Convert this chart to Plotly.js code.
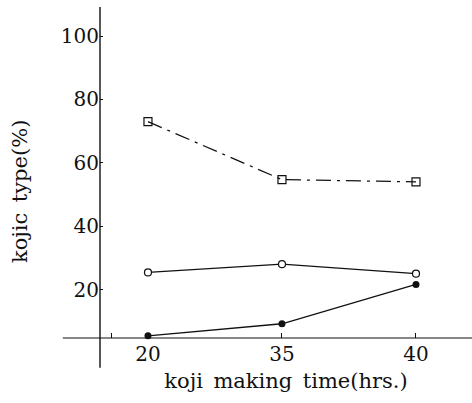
<!DOCTYPE html>
<html><head><meta charset="utf-8">
<script src="https://cdn.plot.ly/plotly-3.0.1.min.js"></script>
<style>html,body{margin:0;padding:0;background:#fff;}#chart{width:472px;height:403px;}</style>
</head><body><div id="chart"></div>
<script>
const hours = ["20", "35", "40"];
const xPos = [0, 1, 2];
const squareSeries = [73, 54.7, 54];
const circleSeries = [25.4, 28, 25];
const dotSeries = [5.4, 9.2, 21.6];
const yTicks = [20, 40, 60, 80, 100];

const tickFont = {family: "DejaVu Serif, serif", size: 20, color: "#111"};
const titleFont = {family: "DejaVu Serif, serif", size: 21, color: "#111"};

const traces = [
  {x: xPos, y: squareSeries, mode: "lines+markers", type: "scatter",
   line: {color: "#111", width: 1.3, dash: "longdashdot"},
   marker: {symbol: "square-open", size: 8, color: "#111", line: {width: 1.2}},
   cliponaxis: false},
  {x: xPos, y: circleSeries, mode: "lines+markers", type: "scatter",
   line: {color: "#111", width: 1.3},
   marker: {symbol: "circle", size: 7, color: "#fff", line: {color: "#111", width: 1.2}},
   cliponaxis: false},
  {x: xPos, y: dotSeries, mode: "lines+markers", type: "scatter",
   line: {color: "#111", width: 1.3},
   marker: {symbol: "circle", size: 7, color: "#111"},
   cliponaxis: false}
];

const layout = {
  width: 472, height: 403,
  margin: {l: 100, r: 0, t: 7, b: 65},
  paper_bgcolor: "#fff", plot_bgcolor: "#fff",
  showlegend: false,
  font: tickFont,
  xaxis: {
    range: [-0.358, 2.418],
    tickvals: [-0.27].concat(xPos), ticktext: [""].concat(hours),
    ticks: "inside", ticklen: 5, tickcolor: "#111", tickwidth: 1,
    showline: false, showgrid: false, zeroline: false,
    tickfont: tickFont, ticklabelstandoff: 2,
    title: {text: "koji\u2002making\u2002time(hrs.)", font: titleFont, standoff: 8}
  },
  yaxis: {
    range: [4.7, 109.2],
    tickvals: yTicks,
    ticks: "inside", ticklen: 3, tickcolor: "#111", tickwidth: 1,
    showline: false, showgrid: false, zeroline: false,
    tickfont: tickFont
  },
  annotations: [
    {text: "kojic\u2002type(%)", xref: "paper", yref: "paper", x: -0.215, y: 0.441,
     textangle: -90, showarrow: false, font: titleFont, xanchor: "center", yanchor: "middle"}
  ],
  shapes: [
    {type: "line", xref: "paper", yref: "paper", x0: -0.1, x1: 1, y0: 0, y1: 0,
     line: {color: "#111", width: 1.2}},
    {type: "line", xref: "paper", yref: "paper", x0: 0, x1: 0, y0: -0.09, y1: 1,
     line: {color: "#111", width: 1.4}}
  ]
};

Plotly.newPlot("chart", traces, layout, {staticPlot: true, displayModeBar: false});
</script></body></html>
